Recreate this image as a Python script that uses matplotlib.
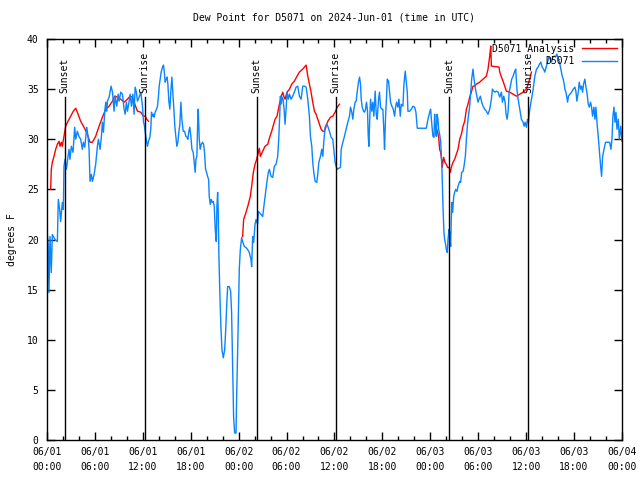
import matplotlib
matplotlib.use('Agg')
import matplotlib.pyplot as plt
import matplotlib.dates as mdates
import numpy as np
import pandas as pd

plt.rcParams['font.family'] = ['DejaVu Sans Mono']
plt.rcParams['font.size'] = 7

START = pd.Timestamp('2024-06-01 00:00')

# D5071 observations: hours since 06/01 00:00 UTC, dew point (F)
obs_hours = [
    0.0, 0.15, 0.25, 0.38, 0.54, 0.67, 1.0, 1.3, 1.42, 1.59, 1.71, 1.92, 2.05, 2.13, 2.26, 2.43,
    2.55, 2.76, 2.88, 3.05, 3.26, 3.47, 3.6, 3.8, 4.0, 4.22, 4.43, 4.56, 4.73, 4.98, 5.14, 5.27,
    5.39, 5.56, 5.69, 5.9, 6.1, 6.31, 6.44, 6.65, 6.82, 6.94, 7.07, 7.24, 7.36, 7.49, 7.57, 7.78,
    7.9, 8.03, 8.2, 8.4, 8.53, 8.74, 8.91, 9.03, 9.24, 9.45, 9.66, 9.79, 9.95, 10.08, 10.29, 10.41,
    10.58, 10.75, 10.91, 11.04, 11.2, 11.33, 11.54, 11.75, 11.96, 12.09, 12.17, 12.38, 12.46, 12.59,
    12.71, 12.88, 13.0, 13.09, 13.21, 13.34, 13.42, 13.55, 13.72, 13.84, 13.96, 14.05, 14.17, 14.3,
    14.47, 14.59, 14.68, 14.8, 14.93, 15.05, 15.14, 15.26, 15.39, 15.51, 15.64, 15.76, 15.89, 16.01,
    16.14, 16.26, 16.39, 16.51, 16.64, 16.77, 16.89, 17.06, 17.23, 17.39, 17.52, 17.64, 17.77, 17.89,
    18.02, 18.15, 18.31, 18.44, 18.56, 18.65, 18.77, 18.86, 18.94, 19.07, 19.19, 19.32, 19.48, 19.61,
    19.73, 19.86, 19.99, 20.11, 20.24, 20.32, 20.45, 20.57, 20.7, 20.82, 20.95, 21.07, 21.2, 21.28,
    21.37, 21.45, 21.53, 21.66, 21.78, 21.91, 22.08, 22.25, 22.37, 22.5, 22.62, 22.83, 23.0, 23.12,
    23.25, 23.37, 23.5, 23.67, 23.75, 23.88, 24.0, 24.08, 24.21, 24.38, 24.5, 24.71, 24.92, 25.13,
    25.34, 25.55, 25.63, 25.76, 25.88, 26.05, 26.18, 26.38, 26.47, 26.59, 26.8, 27.01, 27.22, 27.43,
    27.55, 27.72, 27.85, 28.06, 28.27, 28.47, 28.68, 28.89, 29.02, 29.14, 29.23, 29.31, 29.44, 29.56,
    29.69, 29.81, 29.94, 30.06, 30.23, 30.36, 30.57, 30.77, 30.98, 31.19, 31.4, 31.61, 31.82, 32.03,
    32.24, 32.45, 32.66, 32.86, 32.99, 33.16, 33.28, 33.41, 33.58, 33.78, 33.91, 34.04, 34.25, 34.41,
    34.54, 34.66, 34.83, 35.0, 35.17, 35.37, 35.58, 35.79, 35.92, 36.08, 36.21, 36.34, 36.75, 36.84,
    37.05, 37.25, 37.46, 37.67, 37.88, 38.01, 38.17, 38.3, 38.43, 38.59, 38.72, 38.84, 39.01, 39.14,
    39.26, 39.35, 39.47, 39.64, 39.76, 39.89, 40.01, 40.14, 40.22, 40.31, 40.43, 40.52, 40.68, 40.81,
    40.93, 41.1, 41.23, 41.35, 41.52, 41.64, 41.77, 41.94, 42.06, 42.19, 42.27, 42.4, 42.52, 42.61,
    42.77, 42.9, 43.02, 43.19, 43.36, 43.53, 43.65, 43.78, 43.94, 44.07, 44.24, 44.36, 44.57, 44.7,
    44.86, 44.99, 45.12, 45.2, 45.41, 45.62, 45.83, 46.04, 46.2, 46.37, 47.5, 47.71, 47.92, 48.04,
    48.21, 48.33, 48.46, 48.54, 48.63, 48.75, 48.84, 48.96, 49.05, 49.17, 49.3, 49.38, 49.46, 49.59,
    49.71, 49.8, 49.92, 50.01, 50.13, 50.22, 50.34, 50.42, 50.55, 50.68, 50.8, 50.93, 51.05, 51.18,
    51.34, 51.47, 51.68, 51.8, 51.93, 52.1, 52.22, 52.39, 52.52, 52.64, 52.77, 52.93, 53.06, 53.18,
    53.35, 53.48, 53.6, 53.73, 53.85, 53.98, 54.1, 54.27, 54.44, 54.61, 54.81, 55.02, 55.23, 55.44,
    55.65, 55.78, 55.94, 56.11, 56.28, 56.49, 56.7, 56.91, 57.03, 57.2, 57.37, 57.49, 57.62, 57.74,
    57.87, 58.03, 58.2, 58.37, 58.58, 58.7, 58.79, 58.87, 59.0, 59.2, 59.41, 59.62, 59.75, 59.87,
    60.04, 60.17, 60.29, 60.46, 60.67, 60.88, 61.09, 61.3, 61.5, 61.68, 61.84, 62.01, 62.18, 62.34,
    62.51, 62.68, 62.85, 63.01, 63.18, 63.35, 63.52, 63.68, 63.85, 64.02, 64.18, 64.35, 64.52, 64.64,
    64.77, 64.85, 64.98, 65.1, 65.19, 65.31, 65.48, 65.69, 65.9, 66.11, 66.23, 66.36, 66.53, 66.65,
    66.82, 66.94, 67.07, 67.19, 67.36, 67.49, 67.61, 67.78, 67.91, 68.07, 68.2, 68.32, 68.49, 68.62,
    68.74, 68.91, 69.03, 69.16, 69.33, 69.45, 69.58, 69.75, 69.95, 70.21, 70.46, 70.62, 70.75, 70.87,
    71.0, 71.13, 71.25, 71.38, 71.54, 71.67, 71.85, 72.0,
]
obs_values = [
    21.0, 19.5, 14.7, 20.3, 16.7, 20.5, 20.0, 19.8, 24.0, 23.0, 21.8, 23.7, 23.0, 27.3, 28.0, 27.0,
    27.7, 29.0, 28.0, 29.3, 28.7, 31.2, 30.0, 30.8, 30.3, 30.0, 29.0, 29.7, 29.2, 31.2, 30.3, 29.0,
    25.8, 26.5, 25.8, 26.5, 27.5, 29.3, 30.0, 29.0, 30.3, 31.7, 30.7, 32.8, 33.7, 32.8, 33.8, 34.2,
    34.7, 35.3, 34.7, 32.8, 34.3, 33.3, 34.5, 33.8, 34.7, 34.5, 33.0, 32.5, 33.7, 32.8, 33.8, 34.5,
    33.3, 34.5, 32.5, 35.2, 34.7, 33.8, 34.2, 34.7, 33.3, 31.7, 31.5, 30.3, 29.8, 29.3,
    29.8, 30.2, 31.0, 32.7, 32.3, 32.5, 32.2, 32.7, 33.0, 33.3, 34.3, 35.3, 36.0, 36.7,
    37.2, 37.4, 36.8, 35.7, 36.0, 36.2, 35.5, 33.8, 33.0, 34.7, 36.2, 34.7, 33.0, 31.3,
    30.3, 29.3, 29.7, 30.7, 31.5, 33.7, 32.0, 30.8, 30.8, 30.3, 30.2, 30.0, 30.8, 31.2,
    30.3, 29.0, 28.7, 27.7, 26.7, 28.0, 28.3, 31.3, 33.0, 30.0, 29.0, 29.5, 29.7, 29.5,
    28.7, 27.0, 26.7, 26.3, 26.0, 24.3, 23.5, 24.0, 23.7, 23.8, 23.3, 21.0, 19.8, 23.3,
    24.7, 22.7, 18.3, 14.3, 11.3, 9.0, 8.2, 9.0, 10.8, 13.3, 15.3, 15.3, 14.8, 12.7,
    7.0, 2.3, 0.7, 0.7, 4.3, 9.0, 14.0, 17.0, 19.0, 20.2, 19.8, 19.3, 19.2, 19.0,
    18.7, 18.0, 17.3, 20.3, 19.7, 21.5, 22.0, 21.5, 22.8, 22.7, 22.5, 22.3, 23.7, 25.0,
    25.8, 26.7, 27.0, 26.3, 26.2, 27.3, 27.5, 28.3, 30.0, 32.3, 34.3, 33.5, 34.2, 34.0,
    33.0, 31.5, 33.0, 34.7, 34.0, 34.5, 34.0, 34.3, 34.7, 35.2, 35.3, 34.3, 34.0, 35.3,
    35.3, 35.2, 34.0, 32.3, 30.3, 29.3, 27.7, 26.7, 25.8, 25.7, 26.5, 27.7, 28.3, 29.0,
    28.3, 29.7, 31.2, 31.5, 31.3, 30.8, 30.2, 30.0, 29.0, 27.7, 27.3, 27.0, 27.2, 29.0,
    29.7, 30.3, 31.0, 31.7, 32.3, 33.2, 32.7, 32.0, 33.0, 33.7, 33.8, 34.7, 35.7, 36.2,
    35.5, 34.0, 33.2, 32.8, 32.7, 33.0, 33.7, 32.8, 30.5, 29.3, 32.3, 34.0, 32.8, 33.7,
    32.3, 34.8, 32.5, 32.0, 34.0, 34.7, 33.2, 33.0, 33.0, 30.7, 29.0, 32.3, 34.2, 36.0,
    35.8, 34.7, 33.7, 33.3, 33.0, 32.3, 33.2, 33.7, 33.2, 34.0, 32.3, 33.5, 33.3, 35.5,
    36.8, 35.7, 34.7, 32.8, 32.8, 33.0, 33.3, 33.2, 32.7, 31.1, 31.1, 32.0, 32.7, 33.0,
    31.3, 30.3, 30.2, 32.5, 31.3, 30.3, 32.5, 32.0, 31.0, 30.5, 29.8, 28.3, 27.0, 23.3,
    20.7, 20.0, 19.5, 19.0, 18.7, 20.0, 21.0, 20.7, 19.3, 23.7, 22.7, 24.3, 24.7, 25.0,
    24.8, 25.3, 25.8, 25.7, 26.7, 26.8, 27.3, 28.3, 30.0, 31.3, 32.3, 33.3, 34.7, 36.0,
    37.0, 36.0, 35.3, 34.7, 34.2, 33.7, 34.0, 34.3, 33.7, 33.3, 33.0, 32.8, 32.5, 33.0,
    34.0, 35.0, 34.8, 34.7, 34.8, 34.7, 34.2, 34.7, 33.7, 34.3, 33.7, 32.5, 32.0, 32.7,
    34.7, 35.3, 36.0, 36.3, 36.8, 37.0, 35.7, 34.8, 34.0, 33.0, 32.0, 31.7, 31.3, 31.7,
    31.2, 32.0, 31.7, 33.0, 34.0, 35.0, 36.3, 37.0, 37.2, 37.5, 37.7, 37.2, 37.0, 36.7,
    37.2, 37.7, 38.2, 38.0, 37.7, 38.2, 38.3, 38.2, 38.5, 38.0, 37.7, 37.0, 36.3, 36.0,
    35.5, 35.0, 34.7, 34.2, 33.7, 34.3, 34.5, 34.7, 35.0, 35.2, 34.8, 33.8, 34.7, 35.7,
    35.0, 35.3, 34.7, 35.5, 36.0, 35.2, 34.7, 33.5, 33.2, 33.7, 33.2, 32.3, 33.2, 32.0,
    33.2, 31.3, 30.3, 29.0, 27.3, 26.3, 28.3, 29.0, 29.7, 29.7, 29.7, 29.0, 30.0, 32.3,
    33.2, 31.7, 32.7, 31.0, 32.0, 30.0, 31.3, 29.8,
]

# D5071 analysis (nan = gap between the night runs)
ana_hours = [
    0.46, 0.54, 0.67, 0.88, 1.09, 1.3, 1.51, 1.63, 1.8, 1.92, 2.13, 2.34, 2.63, 2.97, 3.3, 3.6,
    3.8, 4.22, 4.64, 5.06, 5.39, 5.69, 6.1, 6.52, 6.94, 7.36, 7.78, 8.2, 8.49, 8.82, 9.24, 9.66,
    10.08, 10.41, 10.7, 11.0, 11.33, 11.75, 12.08, 12.3, 12.5, 12.7, 18.0,
    24.5, 24.63, 24.92, 25.21, 25.46, 25.63, 25.84, 26.05, 26.26, 26.47, 26.59, 26.72, 27.01, 27.3,
    27.64, 27.89, 28.14, 28.39, 28.56, 28.81, 28.98, 29.19, 29.39, 29.52, 29.65, 29.81, 30.06, 30.36,
    30.65, 30.98, 31.32, 31.61, 32.03, 32.45, 32.66, 32.86, 33.07, 33.28, 33.49, 33.7, 33.91, 34.12,
    34.33, 34.54, 34.75, 34.96, 35.17, 35.5, 35.79, 36.08, 36.34, 36.63, 42.0,
    48.67, 48.88, 49.05, 49.17, 49.3, 49.42, 49.5, 49.67, 49.84, 50.01, 50.17, 50.34, 50.51, 50.63,
    50.84, 51.05, 51.26, 51.47, 51.68, 51.89, 52.1, 52.31, 52.52, 52.72, 52.93, 53.14, 53.35, 53.56,
    53.77, 54.19, 54.61, 55.02, 55.23, 55.44, 55.57, 55.65, 56.61, 56.7, 56.91, 57.11, 57.32, 57.53,
    57.95, 58.37, 58.79, 59.2, 59.62, 60.04, 60.46, 60.67,
]
ana_values = [
    25.0, 27.0, 27.7, 28.3, 29.0, 29.5, 29.8, 29.3, 29.7, 29.3, 30.3, 31.3, 31.8, 32.3, 32.8, 33.1,
    32.7, 31.8, 31.2, 30.5, 29.7, 29.7, 30.3, 31.3, 32.2, 33.0, 33.3, 33.8, 34.3, 34.2, 34.0, 33.7,
    34.0, 34.3, 34.2, 33.5, 32.8, 32.7, 32.3, 32.3, 32.0, 31.8, np.nan,
    20.3, 22.0, 22.7, 23.5, 24.3, 25.3, 26.7, 27.5, 28.0, 28.7, 29.1, 28.3, 28.8, 29.3,
    29.5, 30.2, 30.8, 31.5, 32.0, 32.3, 33.0, 33.8, 34.4, 34.7, 34.3, 34.0, 34.7, 35.0,
    35.5, 35.8, 36.3, 36.7, 37.0, 37.4, 36.3, 35.5, 34.7, 33.7, 32.8, 32.5, 32.0, 31.5,
    31.0, 30.8, 30.8, 31.3, 31.8, 32.2, 32.3, 32.7, 33.2, 33.5, np.nan,
    31.3, 30.8, 30.2, 29.0, 28.7, 28.0, 27.2, 28.2, 27.7, 27.5, 27.2, 27.2, 26.7, 27.2,
    27.7, 28.0, 28.5, 29.0, 30.0, 30.5, 31.3, 31.8, 33.0, 33.5, 34.2, 34.7, 35.3, 35.3,
    35.5, 35.7, 36.0, 36.3, 37.0, 38.3, 39.3, 37.3, 37.2, 36.7, 36.2, 35.8, 35.3, 34.8,
    34.7, 34.5, 34.3, 34.5, 34.7, 35.0, 36.0, 36.7,
]

# sunset / sunrise markers (hours since start)
sun_hours = [2.22, 12.25, 26.26, 36.17, 50.34, 60.25]
sun_labels = ['Sunset', 'Sunrise', 'Sunset', 'Sunrise', 'Sunset', 'Sunrise']


def to_time(hours):
    return START + pd.to_timedelta(np.asarray(hours, dtype=float), unit='h')


def main():
    fig = plt.figure(figsize=(6.4, 4.8), dpi=100)
    ax = fig.add_axes([0.0734, 0.0833, 0.8984, 0.8354])

    ax.plot(to_time(ana_hours), ana_values, color='#ff0000', lw=1.0, label='D5071 Analysis')
    ax.plot(to_time(obs_hours), obs_values, color='#0a84ff', lw=1.0, label='D5071')

    for h, lab in zip(sun_hours, sun_labels):
        t = to_time([h])[0]
        ax.plot([t, t], [0, 34.2], color='black', lw=1.0)
        ax.text(t, 34.6, lab, rotation=90, ha='center', va='bottom', fontsize=7)

    ax.set_xlim(START, START + pd.Timedelta(hours=72))
    ax.set_ylim(0, 40)
    ax.set_yticks(np.arange(0, 41, 5))

    ax.xaxis.set_major_locator(mdates.HourLocator(byhour=range(0, 24, 6)))
    ax.xaxis.set_minor_locator(mdates.HourLocator(byhour=range(0, 24, 2)))
    ax.xaxis.set_major_formatter(mdates.DateFormatter('%m/%d\n%H:%M'))

    ax.tick_params(which='both', direction='in', top=True, right=True, width=1.0)
    ax.tick_params(which='major', length=6, pad=5)
    ax.tick_params(which='minor', length=3)
    ax.tick_params(axis='y', pad=6)
    for s in ax.spines.values():
        s.set_linewidth(1.0)

    plt.setp(ax.get_xticklabels(), linespacing=1.6)

    ax.set_title('Dew Point for D5071 on 2024-Jun-01 (time in UTC)', fontsize=7, pad=13)
    ax.set_ylabel('degrees F', fontsize=7, labelpad=7)

    ax.legend(loc='upper right', frameon=False, markerfirst=False, fontsize=7,
              handlelength=3.6, handletextpad=0.8, borderaxespad=0.1, labelspacing=0.25)

    fig.savefig('out.png', dpi=100)
    plt.close(fig)


if __name__ == '__main__':
    main()
